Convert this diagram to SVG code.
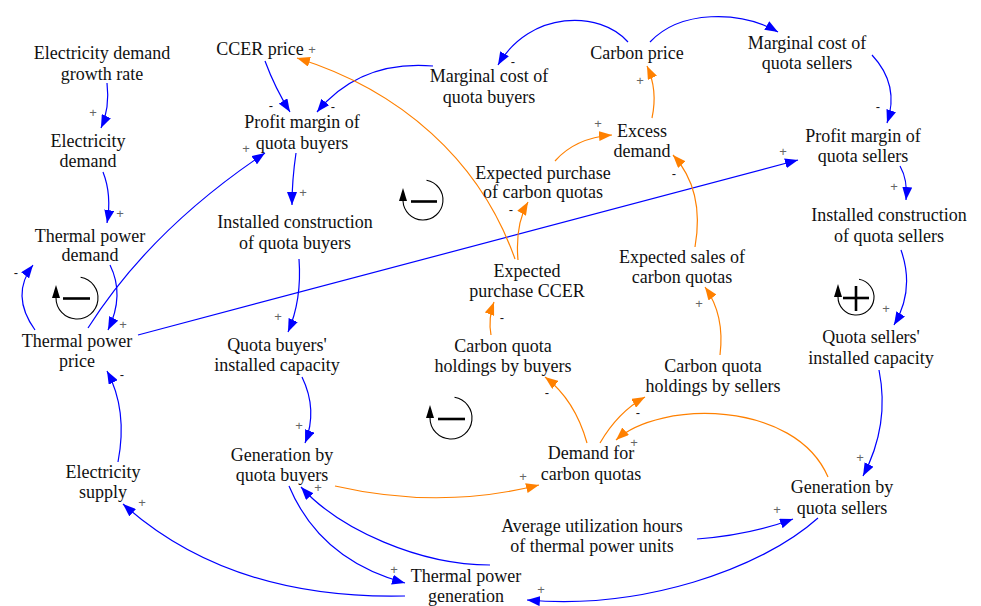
<svg xmlns="http://www.w3.org/2000/svg" width="981" height="606" viewBox="0 0 981 606">
<style>
.n text{font-family:"Liberation Serif","Times New Roman",serif;font-size:18px;fill:#111;text-anchor:middle}
.b{fill:none;stroke:#0000ff;stroke-width:1.2}
.o{fill:none;stroke:#ff8000;stroke-width:1.2}
.b{marker-end:url(#ab)}
.o{marker-end:url(#ao)}
.pl text{font-family:"Liberation Sans",Arial,sans-serif;font-size:13px;text-anchor:middle}
.pp{fill:#666}
.mm{fill:#111}
.lp{fill:none;stroke:#000;stroke-width:1.1}
.ls{stroke:#000;stroke-width:2.6}
</style>
<defs>
<marker id="ab" markerWidth="13" markerHeight="10" refX="13" refY="5" orient="auto" markerUnits="userSpaceOnUse"><path d="M0,0L13,5L0,10z" fill="#0000ff"/></marker>
<marker id="ao" markerWidth="13" markerHeight="10" refX="13" refY="5" orient="auto" markerUnits="userSpaceOnUse"><path d="M0,0L13,5L0,10z" fill="#ff8000"/></marker>
</defs>
<rect width="981" height="606" fill="#fff"/>

<g id="connectors">
<path class="b" d="M107,83 Q110,108 101,128"/>
<path class="b" d="M103,172 Q112,195 107,223"/>
<path class="b" d="M110,265 Q125,295 108,330"/>
<path class="b" d="M35,330 Q10,295 33,265"/>
<path class="b" d="M118,462 Q128,410 107,371"/>
<path class="b" d="M405,596 Q230,600 123,504"/>
<path class="b" d="M88,328 Q150,230 265,153"/>
<path class="b" d="M138,335 L798,160"/>
<path class="b" d="M265,61 Q275,88 290,112"/>
<path class="b" d="M433,66 Q360,60 317,112"/>
<path class="b" d="M628,42 C600,10 530,10 498,65"/>
<path class="b" d="M650,42 C680,10 740,10 778,32"/>
<path class="b" d="M872,55 Q900,85 887,123"/>
<path class="b" d="M900,166 Q908,180 906,200"/>
<path class="b" d="M901,250 Q915,290 894,325"/>
<path class="b" d="M879,370 Q890,425 863,476"/>
<path class="b" d="M296,153 Q292,180 292,205"/>
<path class="b" d="M299,259 Q302,300 288,332"/>
<path class="b" d="M302,377 Q318,410 305,443"/>
<path class="b" d="M289,486 Q320,560 405,583"/>
<path class="b" d="M490,565 C420,565 340,530 301,487"/>
<path class="b" d="M697,539 Q750,535 793,519"/>
<path class="b" d="M818,518 C760,570 640,610 527,600"/>
<path class="o" d="M652,118 Q658,90 647,66"/>
<path class="o" d="M555,161 Q575,138 612,135"/>
<path class="o" d="M695,247 Q705,190 673,155"/>
<path class="o" d="M518,260 Q515,225 528,202"/>
<path class="o" d="M515,259 C480,160 400,90 297,58"/>
<path class="o" d="M491,335 Q488,318 494,302"/>
<path class="o" d="M720,355 Q725,315 705,287"/>
<path class="o" d="M587,443 Q575,400 545,377"/>
<path class="o" d="M600,443 Q618,412 645,397"/>
<path class="o" d="M828,477 C795,400 660,400 616,440"/>
<path class="o" d="M335,486 Q440,510 539,485"/>
</g>

<g id="polarities" class="pl">
<text class="pp" x="93" y="117">+</text>
<text class="pp" x="120" y="218">+</text>
<text class="pp" x="123" y="329">+</text>
<text class="mm" x="16" y="277">-</text>
<text class="mm" x="122" y="379">-</text>
<text class="pp" x="142" y="507">+</text>
<text class="pp" x="246" y="153">+</text>
<text class="pp" x="783" y="156">+</text>
<text class="mm" x="271" y="110">-</text>
<text class="mm" x="333" y="111">-</text>
<text class="mm" x="513" y="66">-</text>
<text class="mm" x="878" y="111">-</text>
<text class="pp" x="894" y="191">+</text>
<text class="pp" x="886" y="313">+</text>
<text class="pp" x="860" y="462">+</text>
<text class="pp" x="303" y="197">+</text>
<text class="pp" x="278" y="321">+</text>
<text class="pp" x="299" y="430">+</text>
<text class="pp" x="394" y="574">+</text>
<text class="pp" x="318" y="492">+</text>
<text class="pp" x="777" y="514">+</text>
<text class="pp" x="541" y="594">+</text>
<text class="pp" x="640" y="85">+</text>
<text class="pp" x="598" y="128">+</text>
<text class="mm" x="674" y="178">-</text>
<text class="mm" x="511" y="214">-</text>
<text class="pp" x="312" y="54">+</text>
<text class="mm" x="502" y="322">-</text>
<text class="pp" x="699" y="308">+</text>
<text class="mm" x="547" y="397">-</text>
<text class="mm" x="638" y="417">-</text>
<text class="pp" x="634" y="447">+</text>
<text class="pp" x="523" y="481">+</text>
</g>

<g id="loops">
<g id="loop1"><path class="lp" d="M80.6,277.3 A21,21 0 1 1 56,298"/><path d="M56,285 L52,298 L60,298z"/><line class="ls" x1="63" y1="298.5" x2="90" y2="298.5"/></g>
<g id="loop2"><path class="lp" d="M426.5,180.3 A20,20 0 1 1 403,201"/><path d="M403,188 L399,201 L407,201z"/><line class="ls" x1="411" y1="201.5" x2="437" y2="201.5"/></g>
<g id="loop3"><path class="lp" d="M454.5,397.3 A21,21 0 1 1 430,418"/><path d="M430,405 L426,418 L434,418z"/><line class="ls" x1="438" y1="419" x2="465" y2="419"/></g>
<g id="loop4"><path class="lp" d="M859,279.3 A18,18 0 1 1 838,297"/><path d="M838,284 L834,297 L842,297z"/><line class="ls" x1="843" y1="298" x2="869" y2="298"/><line class="ls" x1="856" y1="286" x2="856" y2="311"/></g>
</g>

<g id="n1" class="n"><text x="102" y="59">Electricity demand<tspan x="102" y="80">growth rate</tspan></text></g>
<g id="n2" class="n"><text x="88" y="147">Electricity<tspan x="88" y="167">demand</tspan></text></g>
<g id="n3" class="n"><text x="90" y="242">Thermal power<tspan x="90" y="261">demand</tspan></text></g>
<g id="n4" class="n"><text x="77" y="347">Thermal power<tspan x="77" y="367">price</tspan></text></g>
<g id="n5" class="n"><text x="103" y="478">Electricity<tspan x="103" y="498">supply</tspan></text></g>
<g id="n6" class="n"><text x="260" y="55">CCER price</text></g>
<g id="n7" class="n"><text x="302" y="128">Profit margin of<tspan x="302" y="149">quota buyers</tspan></text></g>
<g id="n8" class="n"><text x="295" y="228">Installed construction<tspan x="295" y="249">of quota buyers</tspan></text></g>
<g id="n9" class="n"><text x="277" y="351">Quota buyers'<tspan x="277" y="371">installed capacity</tspan></text></g>
<g id="n10" class="n"><text x="282" y="461">Generation by<tspan x="282" y="481">quota buyers</tspan></text></g>
<g id="n11" class="n"><text x="466" y="582">Thermal power<tspan x="466" y="602">generation</tspan></text></g>
<g id="n12" class="n"><text x="489" y="82">Marginal cost of<tspan x="489" y="103">quota buyers</tspan></text></g>
<g id="n13" class="n"><text x="637" y="59">Carbon price</text></g>
<g id="n14" class="n"><text x="807" y="49">Marginal cost of<tspan x="807" y="69">quota sellers</tspan></text></g>
<g id="n15" class="n"><text x="642" y="137">Excess<tspan x="642" y="157">demand</tspan></text></g>
<g id="n16" class="n"><text x="543" y="179">Expected purchase<tspan x="543" y="198">of carbon quotas</tspan></text></g>
<g id="n17" class="n"><text x="527" y="277">Expected<tspan x="527" y="297">purchase CCER</tspan></text></g>
<g id="n18" class="n"><text x="863" y="142">Profit margin of<tspan x="863" y="162">quota sellers</tspan></text></g>
<g id="n19" class="n"><text x="889" y="221">Installed construction<tspan x="889" y="242">of quota sellers</tspan></text></g>
<g id="n20" class="n"><text x="871" y="343">Quota sellers'<tspan x="871" y="364">installed capacity</tspan></text></g>
<g id="n21" class="n"><text x="682" y="263">Expected sales of<tspan x="682" y="283">carbon quotas</tspan></text></g>
<g id="n22" class="n"><text x="503" y="352">Carbon quota<tspan x="503" y="372">holdings by buyers</tspan></text></g>
<g id="n23" class="n"><text x="713" y="372">Carbon quota<tspan x="713" y="392">holdings by sellers</tspan></text></g>
<g id="n24" class="n"><text x="591" y="459">Demand for<tspan x="591" y="480">carbon quotas</tspan></text></g>
<g id="n25" class="n"><text x="592" y="532">Average utilization hours<tspan x="592" y="552">of thermal power units</tspan></text></g>
<g id="n26" class="n"><text x="842" y="493">Generation by<tspan x="842" y="514">quota sellers</tspan></text></g>
</svg>
